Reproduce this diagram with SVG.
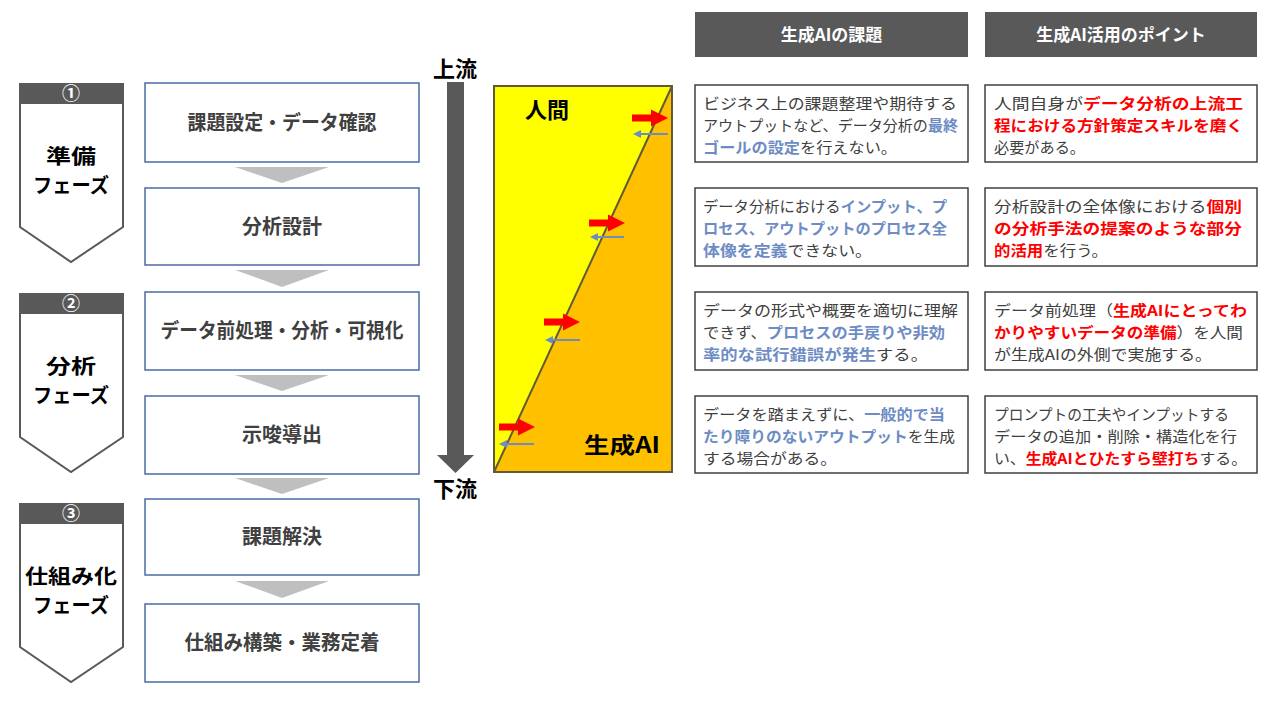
<svg xmlns="http://www.w3.org/2000/svg" width="1280" height="720" viewBox="0 0 1280 720">
<style>
text{font-family:"Noto Sans CJK JP","Noto Sans",sans-serif}
.ph{fill:#fff;stroke:#595959;stroke-width:2}
.phh{fill:#595959}
.num{fill:#fff;font-size:18px;font-weight:bold;text-anchor:middle}
.pl{fill:#000;font-size:20px;font-weight:bold;text-anchor:middle}
.step{fill:#fff;stroke:#4A6BA5;stroke-width:1.5}
.st{fill:#404040;font-size:20px;font-weight:bold;text-anchor:middle}
.tri{fill:#BFBFBF}
.hd{fill:#595959}
.ht{fill:#fff;font-size:17px;font-weight:bold;text-anchor:middle}
.tb{fill:#fff;stroke:#404040;stroke-width:1.5}
.t{fill:#404040;font-size:15px}
.b{fill:#6E8CC4;font-weight:bold}
.r{fill:#FF0000;font-weight:bold}
.big{fill:#000;font-size:22px;font-weight:bold}
.ra{fill:#FF0000}
.bl{stroke:#6E8CC4;stroke-width:2;fill:none}
.bh{fill:#6E8CC4}
</style>
<rect width="1280" height="720" fill="#fff"/>

<!-- phases -->
<g id="phase1">
<path class="ph" d="M20,84 H123 V227 L71,262 L20,227 Z"/>
<rect class="phh" x="19" y="83" width="105" height="21"/>
<text class="num" x="71" y="100">①</text>
<text class="pl" x="71" y="164" textLength="50" lengthAdjust="spacingAndGlyphs">準備</text>
<text class="pl" x="71" y="193" textLength="76" lengthAdjust="spacingAndGlyphs">フェーズ</text>
</g>
<g id="phase2">
<path class="ph" d="M20,294 H123 V437 L71,472 L20,437 Z"/>
<rect class="phh" x="19" y="293" width="105" height="21"/>
<text class="num" x="71" y="310">②</text>
<text class="pl" x="71" y="374" textLength="50" lengthAdjust="spacingAndGlyphs">分析</text>
<text class="pl" x="71" y="403" textLength="76" lengthAdjust="spacingAndGlyphs">フェーズ</text>
</g>
<g id="phase3">
<path class="ph" d="M20,504 H123 V647 L71,682 L20,647 Z"/>
<rect class="phh" x="19" y="503" width="105" height="21"/>
<text class="num" x="71" y="520">③</text>
<text class="pl" x="71" y="584" textLength="92" lengthAdjust="spacingAndGlyphs">仕組み化</text>
<text class="pl" x="71" y="613" textLength="76" lengthAdjust="spacingAndGlyphs">フェーズ</text>
</g>

<!-- steps -->
<g id="step1"><rect class="step" x="145" y="83" width="274" height="79"/><text class="st" x="282" y="130" textLength="189" lengthAdjust="spacingAndGlyphs">課題設定・データ確認</text></g>
<g id="step2"><rect class="step" x="145" y="188" width="274" height="77"/><text class="st" x="282" y="234">分析設計</text></g>
<g id="step3"><rect class="step" x="145" y="292" width="274" height="78"/><text class="st" x="282" y="338" textLength="243" lengthAdjust="spacingAndGlyphs">データ前処理・分析・可視化</text></g>
<g id="step4"><rect class="step" x="145" y="396" width="274" height="78"/><text class="st" x="282" y="442">示唆導出</text></g>
<g id="step5"><rect class="step" x="145" y="499" width="274" height="76"/><text class="st" x="282" y="544">課題解決</text></g>
<g id="step6"><rect class="step" x="145" y="604" width="274" height="78"/><text class="st" x="282" y="650" textLength="195" lengthAdjust="spacingAndGlyphs">仕組み構築・業務定着</text></g>

<g id="connectors">
<polygon class="tri" points="235,167 329,167 282,183"/>
<polygon class="tri" points="235,270 329,270 282,287"/>
<polygon class="tri" points="235,375 329,375 282,391"/>
<polygon class="tri" points="235,478 329,478 282,494"/>
<polygon class="tri" points="235,581 329,581 282,598"/>
<polygon fill="#595959" points="447,82 464,82 464,455 474,455 455.5,473 437,455 447,455"/>
</g>

<g id="flow-labels">
<text class="big" x="455" y="77" text-anchor="middle">上流</text>
<text class="big" x="455" y="497" text-anchor="middle">下流</text>
</g>

<!-- human / AI panel -->
<g id="panel">
<rect x="494" y="86" width="178" height="386" fill="#FFFF00"/>
<polygon points="672,86 672,472 494,472" fill="#FFC000"/>
<line x1="672" y1="86" x2="494" y2="472" stroke="#5F5A3A" stroke-width="2"/>
<rect x="494" y="86" width="178" height="386" fill="none" stroke="#5F5A3A" stroke-width="2"/>
<text class="big" x="525" y="118">人間</text>
<text class="big" x="584" y="453" textLength="76" lengthAdjust="spacingAndGlyphs">生成AI</text>
</g>
<g id="panel-arrows">
<polygon class="ra" points="632,114.5 651,114.5 651,109.5 668,118 651,126.5 651,121.5 632,121.5"/>
<line class="bl" x1="668" y1="134" x2="639" y2="134"/>
<polygon class="bh" points="633,134 641,130 641,138"/>
<polygon class="ra" points="589,219.5 608,219.5 608,214.5 625,223 608,231.5 608,226.5 589,226.5"/>
<line class="bl" x1="624" y1="237" x2="596" y2="237"/>
<polygon class="bh" points="590,237 598,233 598,241"/>
<polygon class="ra" points="544,318.5 563,318.5 563,313.5 580,322 563,330.5 563,325.5 544,325.5"/>
<line class="bl" x1="580" y1="340" x2="551" y2="340"/>
<polygon class="bh" points="545,340 553,336 553,344"/>
<polygon class="ra" points="499,423.5 518,423.5 518,418.5 535,427 518,435.5 518,430.5 499,430.5"/>
<line class="bl" x1="534" y1="444" x2="505" y2="444"/>
<polygon class="bh" points="499,444 507,440 507,448"/>
</g>

<!-- headers -->
<g id="header1"><rect class="hd" x="695" y="12" width="273" height="45"/><text class="ht" x="831.5" y="41">生成AIの課題</text></g>
<g id="header2"><rect class="hd" x="985" y="12" width="272" height="45"/><text class="ht" x="1121" y="41">生成AI活用のポイント</text></g>

<!-- row 1 -->
<g id="issue1">
<rect class="tb" x="695" y="85" width="273" height="77"/>
<text class="t" x="703" y="108.5" textLength="254" lengthAdjust="spacingAndGlyphs">ビジネス上の課題整理や期待する</text>
<text class="t" x="703" y="130.5" textLength="255" lengthAdjust="spacingAndGlyphs">アウトプットなど、データ分析の<tspan class="b">最終</tspan></text>
<text class="t" x="703" y="152.5" textLength="194" lengthAdjust="spacingAndGlyphs"><tspan class="b">ゴールの設定</tspan>を行えない。</text>
</g>
<g id="point1">
<rect class="tb" x="985" y="85" width="272" height="77"/>
<text class="t" x="994" y="108.5" textLength="249" lengthAdjust="spacingAndGlyphs">人間自身が<tspan class="r">データ分析の上流工</tspan></text>
<text class="t" x="994" y="130.5" textLength="249" lengthAdjust="spacingAndGlyphs"><tspan class="r">程における方針策定スキルを磨く</tspan></text>
<text class="t" x="994" y="152.5" textLength="91" lengthAdjust="spacingAndGlyphs">必要がある。</text>
</g>
<!-- row 2 -->
<g id="issue2">
<rect class="tb" x="695" y="188" width="273" height="78"/>
<text class="t" x="703" y="211.5" textLength="244" lengthAdjust="spacingAndGlyphs">データ分析における<tspan class="b">インプット、プ</tspan></text>
<text class="t" x="703" y="233.5" textLength="244" lengthAdjust="spacingAndGlyphs"><tspan class="b">ロセス、アウトプットのプロセス全</tspan></text>
<text class="t" x="703" y="255.5" textLength="169" lengthAdjust="spacingAndGlyphs"><tspan class="b">体像を定義</tspan>できない。</text>
</g>
<g id="point2">
<rect class="tb" x="985" y="188" width="272" height="78"/>
<text class="t" x="994" y="211.5" textLength="248" lengthAdjust="spacingAndGlyphs">分析設計の全体像における<tspan class="r">個別</tspan></text>
<text class="t" x="994" y="233.5" textLength="248" lengthAdjust="spacingAndGlyphs"><tspan class="r">の分析手法の提案のような部分</tspan></text>
<text class="t" x="994" y="255.5" textLength="114" lengthAdjust="spacingAndGlyphs"><tspan class="r">的活用</tspan>を行う。</text>
</g>
<!-- row 3 -->
<g id="issue3">
<rect class="tb" x="695" y="292" width="273" height="78"/>
<text class="t" x="703" y="315.5" textLength="255" lengthAdjust="spacingAndGlyphs">データの形式や概要を適切に理解</text>
<text class="t" x="703" y="337.5" textLength="242" lengthAdjust="spacingAndGlyphs">できず、<tspan class="b">プロセスの手戻りや非効</tspan></text>
<text class="t" x="703" y="359.5" textLength="225" lengthAdjust="spacingAndGlyphs"><tspan class="b">率的な試行錯誤が発生</tspan>する。</text>
</g>
<g id="point3">
<rect class="tb" x="985" y="292" width="272" height="78"/>
<text class="t" x="994" y="315.5" textLength="253" lengthAdjust="spacingAndGlyphs">データ前処理（<tspan class="r">生成AIにとってわ</tspan></text>
<text class="t" x="994" y="337.5" textLength="249" lengthAdjust="spacingAndGlyphs"><tspan class="r">かりやすいデータの準備</tspan>）を人間</text>
<text class="t" x="994" y="359.5" textLength="218" lengthAdjust="spacingAndGlyphs">が生成AIの外側で実施する。</text>
</g>
<!-- row 4 -->
<g id="issue4">
<rect class="tb" x="695" y="396" width="273" height="77"/>
<text class="t" x="703" y="419.5" textLength="242" lengthAdjust="spacingAndGlyphs">データを踏まえずに、<tspan class="b">一般的で当</tspan></text>
<text class="t" x="703" y="441.5" textLength="252" lengthAdjust="spacingAndGlyphs"><tspan class="b">たり障りのないアウトプット</tspan>を生成</text>
<text class="t" x="703" y="463.5" textLength="134" lengthAdjust="spacingAndGlyphs">する場合がある。</text>
</g>
<g id="point4">
<rect class="tb" x="985" y="396" width="272" height="77"/>
<text class="t" x="994" y="419.5" textLength="235" lengthAdjust="spacingAndGlyphs">プロンプトの工夫やインプットする</text>
<text class="t" x="994" y="441.5" textLength="243" lengthAdjust="spacingAndGlyphs">データの追加・削除・構造化を行</text>
<text class="t" x="994" y="463.5" textLength="253" lengthAdjust="spacingAndGlyphs">い、<tspan class="r">生成AIとひたすら壁打ち</tspan>する。</text>
</g>
</svg>
